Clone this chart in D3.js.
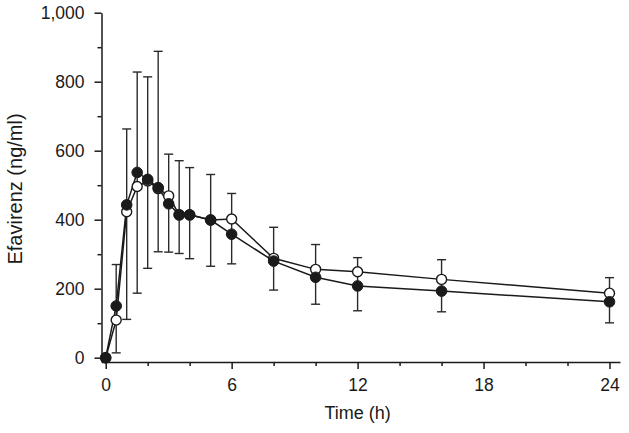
<!DOCTYPE html>
<html>
<head>
<meta charset="utf-8">
<script src="https://cdn.jsdelivr.net/npm/d3@7"></script>
<style>
  html, body { margin: 0; padding: 0; background: #fff; }
  svg { display: block; font-family: "Liberation Sans", Arial, Helvetica, sans-serif; }
</style>
</head>
<body>
<svg id="chart" width="629" height="433"></svg>
<script>
// Data
const times      = [0, 0.5, 1, 1.5, 2, 2.5, 3, 3.5, 4, 5, 6, 8, 10, 12, 16, 24];
const filledVals = [0, 150, 443, 537, 517, 493, 446, 414, 414, 399, 358, 280, 233, 208, 193, 162];
const openVals   = [0, 109, 423, 496, 512, 490, 469, 414, 414, 399, 402, 288, 256, 249, 227, 187];
const errLow     = [null, 14, 111, 187, 259, 307, 306, 302, 287, 265, 272, 196, 155, 136, 133, 101];
const errHigh    = [null, 270, 663, 828, 814, 888, 590, 571, 551, 531, 476, 378, 328, 290, 284, 232];
const xMajorTicks = [0, 6, 12, 18, 24];
const xMinorTicks = [2, 4, 8, 10, 14, 16, 20, 22];
const yMajorTicks = [0, 200, 400, 600, 800, 1000];
const yMinorTicks = [100, 300, 500, 700, 900];
const xTitle = "Time (h)";
const yTitle = "Efavirenz (ng/ml)";

const svg = d3.select("#chart");
const x = d3.scaleLinear().domain([-0.2, 24.5]).range([101.5, 620]);
const y = d3.scaleLinear().domain([-12.5, 1000]).range([362, 12.7]);
const ink = "#1a1a1a";

// Axes
const gx = svg.append("g").attr("transform", `translate(0,${y.range()[0]})`);
gx.call(d3.axisBottom(x).tickValues(xMajorTicks).tickSize(7).tickSizeOuter(0).tickPadding(10).tickFormat(d3.format("d")));
const gxm = svg.append("g").attr("transform", `translate(0,${y.range()[0]})`);
gxm.call(d3.axisBottom(x).tickValues(xMinorTicks).tickSize(4).tickFormat(""));
gxm.select(".domain").remove();

const gy = svg.append("g").attr("transform", `translate(${x.range()[0]},0)`);
gy.call(d3.axisLeft(y).tickValues(yMajorTicks).tickSize(7).tickSizeOuter(0).tickPadding(10).tickFormat(d3.format(",")));
const gym = svg.append("g").attr("transform", `translate(${x.range()[0]},0)`);
gym.call(d3.axisLeft(y).tickValues(yMinorTicks).tickSize(4).tickFormat(""));
gym.select(".domain").remove();

svg.selectAll(".domain").attr("stroke", ink).attr("stroke-width", 1.5);
svg.selectAll(".tick line").attr("stroke", ink).attr("stroke-width", 1.5);
svg.selectAll(".tick text").attr("fill", ink).style("font-size", "17.5px");

// Axis titles
svg.append("text").attr("x", (x(0) + x(24)) / 2).attr("y", 419)
  .attr("text-anchor", "middle").attr("fill", ink).style("font-size", "18px").text(xTitle);
svg.append("text").attr("transform", `translate(21.5,189) rotate(-90)`)
  .attr("text-anchor", "middle").attr("fill", ink).style("font-size", "20px").text(yTitle);

// Error bars
const eb = times.map((t, i) => ({t, lo: errLow[i], hi: errHigh[i]})).filter(d => d.lo !== null);
const cap = 4.5;
const gE = svg.append("g").attr("stroke", "#2a2a2a").attr("stroke-width", 1.4).attr("fill", "none");
eb.forEach(d => {
  gE.append("line").attr("x1", x(d.t)).attr("x2", x(d.t)).attr("y1", y(d.lo)).attr("y2", y(d.hi));
  gE.append("line").attr("x1", x(d.t) - cap).attr("x2", x(d.t) + cap).attr("y1", y(d.hi)).attr("y2", y(d.hi));
  gE.append("line").attr("x1", x(d.t) - cap).attr("x2", x(d.t) + cap).attr("y1", y(d.lo)).attr("y2", y(d.lo));
});

// Lines
const line = d3.line().x(d => x(d[0])).y(d => y(d[1]));
const openData = times.map((t, i) => [t, openVals[i]]);
const filledData = times.map((t, i) => [t, filledVals[i]]);
svg.append("path").datum(openData).attr("d", line).attr("fill", "none").attr("stroke", ink).attr("stroke-width", 1.5);
svg.append("path").datum(filledData).attr("d", line).attr("fill", "none").attr("stroke", ink).attr("stroke-width", 1.5);

// Markers
svg.append("g").selectAll("circle").data(openData).join("circle")
  .attr("cx", d => x(d[0])).attr("cy", d => y(d[1])).attr("r", 5)
  .attr("fill", "#fff").attr("stroke", ink).attr("stroke-width", 1.4);
svg.append("g").selectAll("circle").data(filledData).join("circle")
  .attr("cx", d => x(d[0])).attr("cy", d => y(d[1])).attr("r", 5.3)
  .attr("fill", ink).attr("stroke", ink).attr("stroke-width", 1);
</script>
</body>
</html>
